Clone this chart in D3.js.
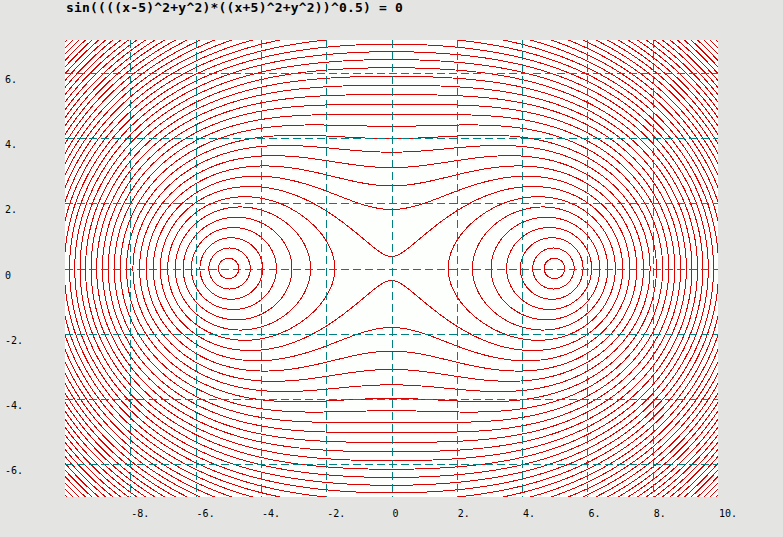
<!DOCTYPE html>
<html><head><meta charset="utf-8">
<script src="https://cdn.jsdelivr.net/npm/d3@7"></script>
<style>
html,body{margin:0;padding:0;background:#e4e5e2;}
svg{display:block;}
</style></head>
<body>
<svg id="chart" width="783" height="537"></svg>
<script>
// ---- chart data ----
const title = "sin((((x-5)^2+y^2)*((x+5)^2+y^2))^0.5) = 0";
const xDomain = [-10, 10];
const yDomain = [-7, 7];
const focusA = [5, 0];
const focusB = [-5, 0];
const xTickValues = [-8, -6, -4, -2, 0, 2, 4, 6, 8, 10];
const xTickLabels = ["-8.", "-6.", "-4.", "-2.", "0", "2.", "4.", "6.", "8.", "10."];
const xGridValues = [-8, -6, -4, -2, 0, 2, 4, 6, 8];
const yTickValues = [6, 4, 2, 0, -2, -4, -6];
const yTickLabels = ["6.", "4.", "2.", "0", "-2.", "-4.", "-6."];
// zeros of sin(r): r = k*pi, k = 1..46
const zeroMultiples = d3.range(1, 47);

// ---- layout ----
const svg = d3.select("#chart");
const L = 65, R = 718, T = 40, B = 497;
const x = d3.scaleLinear().domain(xDomain).range([L, R]);
const y = d3.scaleLinear().domain([yDomain[1], yDomain[0]]).range([T, B]);

svg.append("rect").attr("width", 783).attr("height", 537).attr("fill", "#e4e5e2");
svg.append("rect").attr("x", L).attr("y", T).attr("width", R - L).attr("height", B - T).attr("fill", "#fcfffc");

svg.append("defs").append("clipPath").attr("id", "plotclip")
  .append("rect").attr("x", L).attr("y", T).attr("width", R - L).attr("height", B - T);

// ---- grid values of the function under sin ----
const X0 = L - 6, Y0 = T - 6;
const nx = (R - L) + 13, ny = (B - T) + 13;
const values = new Float64Array(nx * ny);
for (let j = 0; j < ny; j++) {
  const yy = y.invert(Y0 + j);
  for (let i = 0; i < nx; i++) {
    const xx = x.invert(X0 + i);
    const d1 = (xx - focusA[0]) ** 2 + (yy - focusA[1]) ** 2;
    const d2 = (xx - focusB[0]) ** 2 + (yy - focusB[1]) ** 2;
    values[j * nx + i] = Math.sqrt(d1 * d2);
  }
}
const contours = d3.contours().size([nx, ny]).smooth(true)
  .thresholds(zeroMultiples.map(k => k * Math.PI))(values);

const cg = svg.append("g").attr("clip-path", "url(#plotclip)");
const inner = cg.append("g").attr("transform", `translate(${X0 - 0.5},${Y0 - 0.5})`);
inner.selectAll("path").data(contours).join("path")
  .attr("d", d3.geoPath())
  .attr("fill", "none")
  .attr("stroke", "#dc0000")
  .attr("stroke-width", 1)
  .attr("shape-rendering", "crispEdges");

// ---- grid ----
const grid = svg.append("g").attr("stroke", "#008080").attr("stroke-width", 1)
  .attr("stroke-dasharray", "8,4").attr("shape-rendering", "crispEdges");
grid.selectAll("line.v").data(xGridValues).join("line").attr("class", "v")
  .attr("x1", d => Math.round(x(d)) + 0.5).attr("x2", d => Math.round(x(d)) + 0.5)
  .attr("y1", T).attr("y2", B);
grid.selectAll("line.h").data(yTickValues).join("line").attr("class", "h")
  .attr("y1", d => Math.round(y(d)) + 0.5).attr("y2", d => Math.round(y(d)) + 0.5)
  .attr("x1", L).attr("x2", R);

// ---- labels ----
const font = "'DejaVu Sans Mono', monospace";
svg.append("g").selectAll("text").data(xTickValues).join("text")
  .attr("x", d => x(d) + 1).attr("y", 517)
  .attr("font-family", font).attr("font-size", 10).attr("fill", "#000")
  .text((d, i) => xTickLabels[i]);
svg.append("g").selectAll("text").data(yTickValues).join("text")
  .attr("x", 5).attr("y", d => y(d) + 10)
  .attr("font-family", font).attr("font-size", 10).attr("fill", "#000")
  .text((d, i) => yTickLabels[i]);

svg.append("text").attr("x", 66).attr("y", 12)
  .attr("font-family", font).attr("font-size", 13).attr("font-weight", "bold")
  .attr("letter-spacing", 0.2)
  .attr("fill", "#000").text(title);
</script>
</body></html>
